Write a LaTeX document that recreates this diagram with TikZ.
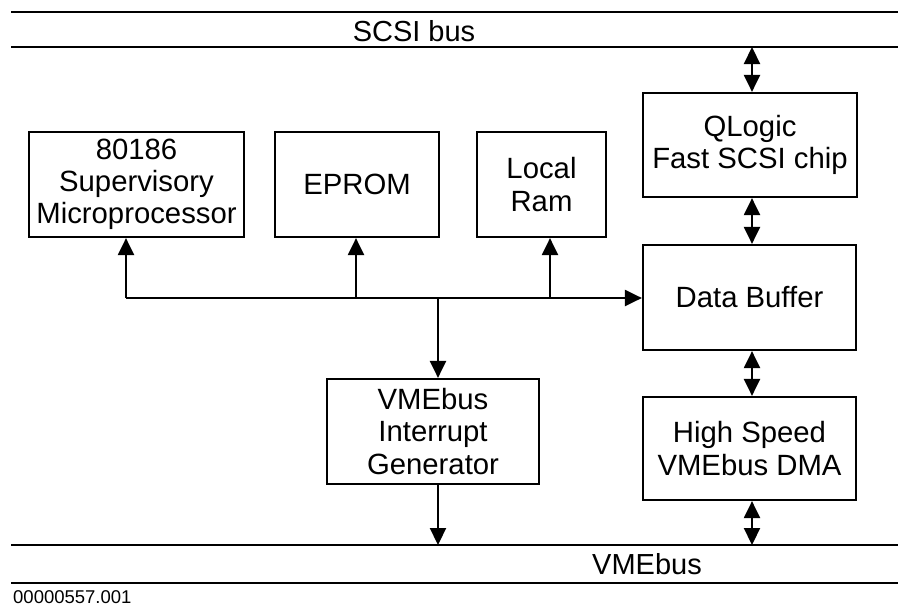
\documentclass[tikz,border=0pt]{standalone}
\usepackage{fontspec}
\setmainfont{Liberation Sans}
\usetikzlibrary{arrows.meta}
\tikzset{
  blk/.style={draw, line width=2.2pt, rectangle, align=center, inner sep=0pt,
    font=\fontsize{29.3}{32.3}\selectfont},
  busline/.style={line width=2.6pt},
  arr/.style={line width=2.2pt, -{Triangle[length=17pt,width=16pt]}},
  darr/.style={line width=2.2pt, {Triangle[length=17pt,width=16pt]}-{Triangle[length=17pt,width=16pt]}},
  lbl/.style={inner sep=0pt, font=\fontsize{29}{32}\selectfont},
}
\begin{document}
\begin{tikzpicture}[x=1pt,y=-1pt]
\useasboundingbox (0,0) rectangle (898,606);
% buses
\coordinate (s1) at (11,12);  \coordinate (s1e) at (898,12);
\coordinate (s2) at (11,47);  \coordinate (s2e) at (898,47);
\coordinate (v1) at (11,545); \coordinate (v1e) at (898,545);
\coordinate (v2) at (11,583); \coordinate (v2e) at (898,583);
\draw[busline] (s1) -- (s1e);
\draw[busline] (s2) -- (s2e);
\draw[busline] (v1) -- (v1e);
\draw[busline] (v2) -- (v2e);
\node[lbl] (scsi) at (414,31) {SCSI bus};
\node[lbl] (vme) at (647,564) {VMEbus};
\node[inner sep=0pt, anchor=west, font=\fontsize{18.5}{20}\selectfont] (code) at (13,597) {00000557.001};
% boxes
\node[blk, minimum width=215pt, minimum height=105pt] (cpu) at (136.5,184.5) {80186\\Supervisory\\Microprocessor};
\node[blk, minimum width=164pt, minimum height=105pt] (eprom) at (357,184.5) {EPROM};
\node[blk, minimum width=129pt, minimum height=105pt] (ram) at (541.5,184.5) {Local\\Ram};
\node[blk, minimum width=214pt, minimum height=104pt] (ql) at (750,145) {QLogic\\Fast SCSI chip};
\node[blk, minimum width=213pt, minimum height=105pt] (buf) at (749.5,297.5) {Data Buffer};
\node[blk, minimum width=213pt, minimum height=103pt] (dma) at (749.5,448.5) {High Speed\\VMEbus DMA};
\node[blk, minimum width=212pt, minimum height=105pt] (irq) at (433,431.5) {VMEbus\\Interrupt\\Generator};
% internal bus
\coordinate (bL) at (126,298);
\coordinate (bE) at (356,298);
\coordinate (bI) at (438,298);
\coordinate (bR) at (550,298);
\coordinate (iv) at (438,545);
\coordinate (sv) at (752,47);
\coordinate (vv) at (752,545);
\draw[arr] (bL) -- (buf.west |- bL);
\draw[arr] (bL) -- (cpu.south -| bL);
\draw[arr] (bE) -- (eprom.south -| bE);
\draw[arr] (bR) -- (ram.south -| bR);
\draw[arr] (bI) -- (irq.north -| bI);
\draw[arr] (irq.south -| iv) -- (iv);
% right column
\draw[darr] (sv) -- (ql.north -| sv);
\draw[darr] (ql.south -| sv) -- (buf.north -| sv);
\draw[darr] (buf.south -| sv) -- (dma.north -| sv);
\draw[darr] (dma.south -| vv) -- (vv);
\end{tikzpicture}
\end{document}
